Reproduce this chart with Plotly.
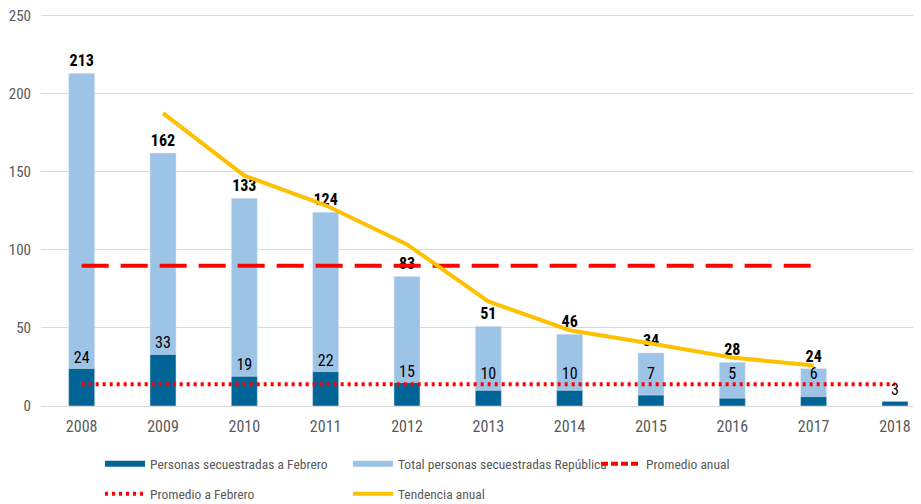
import plotly.graph_objects as go

years = ["2008", "2009", "2010", "2011", "2012", "2013", "2014", "2015", "2016", "2017", "2018"]
total_republica = [213, 162, 133, 124, 83, 51, 46, 34, 28, 24, None]
secuestradas_febrero = [24, 33, 19, 22, 15, 10, 10, 7, 5, 6, 3]
promedio_anual = [89.8] * 10
promedio_febrero = [14.0] * 11
tendencia_years = ["2009", "2010", "2011", "2012", "2013", "2014", "2015", "2016", "2017"]
tendencia_anual = [187.5, 147.5, 128.5, 103.5, 67, 48.5, 40, 31, 26]

FONT = "Liberation Sans Narrow, Roboto Condensed, Arial Narrow, sans-serif"
DARK = "#006497"
LIGHT = "#9dc3e6"
RED = "#ff0000"
YELLOW = "#ffc000"
GRAY = "#595959"

# the page body adds an 8px offset; figure is sized to the visible window
W, H = 913, 496
Y_MAX = 251
M_T, M_B = 6, 98
PX_PER_UNIT = (H - M_T - M_B) / Y_MAX

fig = go.Figure()

fig.add_trace(go.Bar(
    x=years, y=total_republica, width=0.32, marker_color=LIGHT,
    text=[f"<b>{v}</b>" if v is not None else "" for v in total_republica],
    textposition="outside", textfont=dict(color="black", size=16, family=FONT),
    cliponaxis=False, showlegend=False, name="Total personas secuestradas República",
))
fig.add_trace(go.Bar(
    x=years, y=secuestradas_febrero, width=0.32, marker_color=DARK,
    showlegend=False, name="Personas secuestradas a Febrero",
))
fig.add_trace(go.Scatter(
    x=years[:10], y=promedio_anual, mode="lines",
    line=dict(color=RED, width=4, dash="27px,12px"), showlegend=False,
    name="Promedio anual",
))
fig.add_trace(go.Scatter(
    x=years, y=promedio_febrero, mode="lines",
    line=dict(color=RED, width=4, dash="3px,4px"), showlegend=False,
    name="Promedio a Febrero",
))
fig.add_trace(go.Scatter(
    x=tendencia_years, y=tendencia_anual, mode="lines",
    line=dict(color=YELLOW, width=4), showlegend=False,
    name="Tendencia anual",
))

# February value labels, ~10px above the bar and kept clear of the dotted average line
shift = 10 / PX_PER_UNIT
label_y = [(v if tot is None else max(v, promedio_febrero[0] - 0.5)) + shift
           for v, tot in zip(secuestradas_febrero, total_republica)]
fig.add_trace(go.Scatter(
    x=years, y=label_y, mode="text", text=[str(v) for v in secuestradas_febrero],
    textposition="middle center", textfont=dict(color="black", size=16, family=FONT),
    cliponaxis=False, showlegend=False, hoverinfo="skip",
))

# legend entries (wide swatches like the original), split over two rows
legend_items = [
    ("Personas secuestradas a Febrero", dict(color=DARK, width=6), "legend"),
    ("Total personas secuestradas República", dict(color=LIGHT, width=6), "legend"),
    ("Promedio anual", dict(color=RED, width=4, dash="7px,3px"), "legend"),
    ("Promedio a Febrero", dict(color=RED, width=4, dash="3px,4px"), "legend2"),
    ("Tendencia anual", dict(color=YELLOW, width=4), "legend2"),
]
for name, ln, lg in legend_items:
    fig.add_trace(go.Scatter(x=[None], y=[None], mode="lines", line=ln, name=name, legend=lg))

legend_common = dict(orientation="h", xref="container", yref="container",
                     x=92 / W, xanchor="left", yanchor="middle",
                     entrywidth=193, entrywidthmode="pixels", itemwidth=40,
                     bgcolor="rgba(0,0,0,0)",
                     font=dict(size=13.5, color=GRAY, family=FONT))

fig.update_layout(
    width=W, height=H,
    margin=dict(l=33, r=0, t=M_T, b=M_B),
    barmode="overlay",
    plot_bgcolor="white", paper_bgcolor="white",
    font=dict(family=FONT, size=15, color=GRAY),
    xaxis=dict(type="category", range=[-0.5, 10.32], showgrid=False, automargin=False,
               showline=True, linecolor="#d9d9d9", linewidth=1, ticks="",
               ticklabelstandoff=6, tickfont=dict(size=16, color=GRAY)),
    yaxis=dict(range=[0, Y_MAX], tickvals=[0, 50, 100, 150, 200, 250],
               showgrid=True, gridcolor="#d9d9d9",
               gridwidth=1, zeroline=False, showline=False, ticks="", automargin=False,
               ticklabeloverflow="allow",
               ticklabelstandoff=9, tickfont=dict(size=15, color=GRAY)),
    legend=dict(legend_common, y=1 - 456 / H),
    legend2=dict(legend_common, y=1 - 486 / H),
)

fig.write_html("out.html")
